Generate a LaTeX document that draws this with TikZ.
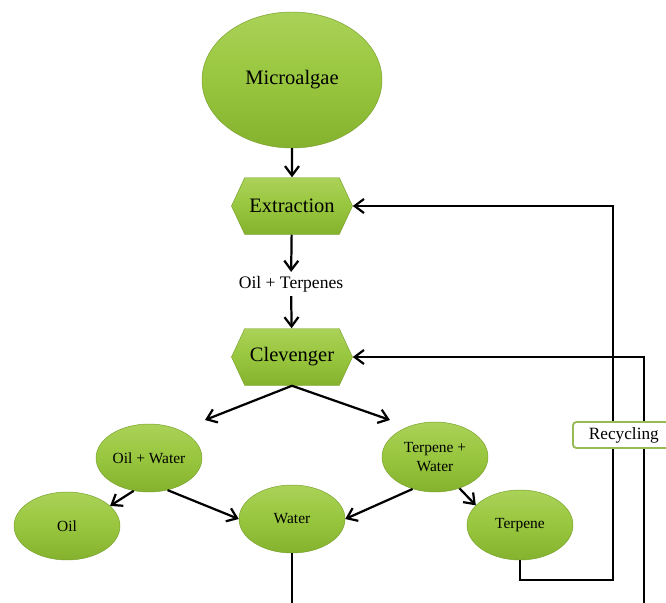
\documentclass[tikz,border=0pt]{standalone}
\usepackage{fontspec}
\setmainfont{Liberation Serif}
\usepackage{xcolor}
\usetikzlibrary{shapes.geometric,shapes.symbols,arrows.meta}

\definecolor{leaftop}{RGB}{170,210,88}
\definecolor{leafmid}{RGB}{152,198,62}
\definecolor{leafbot}{RGB}{132,178,46}
\definecolor{leafline}{RGB}{120,160,44}
\definecolor{boxline}{RGB}{150,186,84}

\tikzset{
  blob/.style={ellipse, inner sep=0pt, draw=leafline, line width=0.4pt,
    top color=leaftop, bottom color=leafbot, middle color=leafmid},
  bigblob/.style={blob, minimum width=5.4cm, minimum height=4.08cm,
    font=\fontsize{17.5}{20}\selectfont},
  smallblob/.style={blob, minimum width=3.18cm, minimum height=2.04cm,
    font=\fontsize{13.2}{15.5}\selectfont, align=center},
  stage/.style={signal, signal to=west and east, signal pointer angle=130,
    inner sep=0pt, minimum width=3.63cm, minimum height=1.71cm,
    draw=leafline, line width=0.4pt,
    top color=leaftop, bottom color=leafbot, middle color=leafmid,
    font=\fontsize{17.5}{20}\selectfont},
  flow/.style={line width=1.9pt, -{Straight Barb[length=2.8mm,width=4.2mm]}},
  pipe/.style={line width=1.9pt},
}

\begin{document}
\begin{tikzpicture}[x=0.03cm, y=-0.03cm]
\useasboundingbox (0,0) rectangle (666,602);
\clip (0,0) rectangle (666,602);
% main chain
\node[bigblob] (alg) at (292,80) {Microalgae};
\node[stage] (ext) at (292,206) {Extraction};
\node[font=\fontsize{15}{18}\selectfont] (mix) at (291,284) {Oil + Terpenes};
\node[stage] (clv) at (292,357) {Clevenger};
% products
\node[smallblob] (ow) at (149,458) {Oil + Water};
\node[smallblob, minimum height=2.1cm] (tw) at (435,457) {Terpene +\\Water};
\node[smallblob] (oil) at (67,526) {Oil};
\node[smallblob] (wat) at (292,519) {Water};
\node[smallblob, minimum height=2.1cm] (tp) at (520,525) {Terpene};
% free ends
\coordinate (owin) at (205,420);
\coordinate (twin) at (390,420);
\coordinate (loopa) at (613,580);
\coordinate (loopb) at (644,610);
\coordinate (drain) at (292,610);

\draw[flow] (alg) -- (ext);
\draw[flow] (ext) -- (mix);
\draw[flow] (mix) -- (clv);
\draw[flow] (clv.south) -- (owin);
\draw[flow] (clv.south) -- (twin);
\draw[flow] (ow.-115) -- (oil.25);
\draw[flow] (ow.-60) -- (wat.west);
\draw[flow] (tw.-125) -- (wat.east);
\draw[flow] (tw.-52) -- (tp.156);
\draw[pipe] (wat.south) -- (drain);
% recycling loops
\draw[flow] (tp.south) |- (loopa) |- (ext.east);
\draw[flow] (loopb) |- (clv.east);
\node[draw=boxline, line width=1.6pt, fill=white, rounded corners=3pt,
  anchor=west, inner xsep=0.48cm, minimum height=0.78cm,
  font=\fontsize{14.7}{17}\selectfont] (rec) at (572,435) {Recycling};
\end{tikzpicture}
\end{document}
